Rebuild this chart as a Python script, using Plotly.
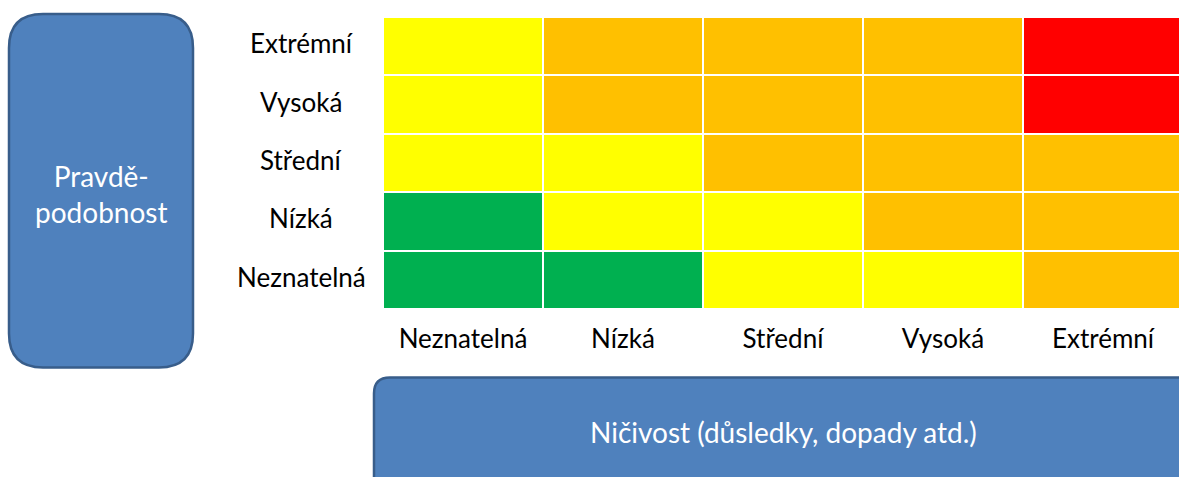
import plotly.graph_objects as go

# ---- data ----
impact = ["Neznatelná", "Nízká", "Střední", "Vysoká", "Extrémní"]          # x categories (Ničivost)
likelihood = ["Neznatelná", "Nízká", "Střední", "Vysoká", "Extrémní"]      # y categories (Pravděpodobnost), bottom -> top
# risk level per cell: 0 = green, 1 = yellow, 2 = orange, 3 = red ; rows bottom -> top
row_neznatelna = [0, 0, 1, 1, 2]
row_nizka = [0, 1, 1, 2, 2]
row_stredni = [1, 1, 2, 2, 2]
row_vysoka = [1, 2, 2, 2, 3]
row_extremni = [1, 2, 2, 2, 3]
risk = [row_neznatelna, row_nizka, row_stredni, row_vysoka, row_extremni]
level_colors = ["#00B050", "#FFFF00", "#FFC000", "#FF0000"]
y_title = "Pravdě-<br>podobnost"
x_title = "Ničivost (důsledky, dopady atd.)"

W, H = 1179, 477
L, T = 383, 17
PW = W - L           # plot width in px
PH = 292.5           # plot height in px
B = H - T - PH
CELL = 160.0

FONT = "Lato"

cs = []
n = len(level_colors)
for i, c in enumerate(level_colors):
    cs.append([i / n, c])
    cs.append([(i + 1) / n, c])

fig = go.Figure(go.Heatmap(
    z=risk, x=list(range(5)), y=list(range(5)),
    colorscale=cs, zmin=-0.5, zmax=n - 0.5, showscale=False,
    xgap=2, ygap=2, hoverinfo="skip",
))

xr_end = -0.5 + PW / CELL

def px(x, y):
    return ((x - L) / PW, (H - B - y) / PH)

def rounded_path(x0, y0, x1, y1, r):
    def P(x, y):
        a, b = px(x, y)
        return f"{a:.5f},{b:.5f}"
    d = f"M{P(x0 + r, y0)} L{P(x1 - r, y0)} Q{P(x1, y0)} {P(x1, y0 + r)} "
    d += f"L{P(x1, y1 - r)} Q{P(x1, y1)} {P(x1 - r, y1)} "
    d += f"L{P(x0 + r, y1)} Q{P(x0, y1)} {P(x0, y1 - r)} "
    d += f"L{P(x0, y0 + r)} Q{P(x0, y0)} {P(x0 + r, y0)} Z"
    return d

shapes = [
    dict(type="path", xref="paper", yref="paper", path=rounded_path(9, 14, 193, 368, 34),
         fillcolor="#4F81BD", line=dict(color="#385D8A", width=2.5), layer="above"),
    dict(type="path", xref="paper", yref="paper", path=rounded_path(374, 378, 1210, 510, 16),
         fillcolor="#4F81BD", line=dict(color="#385D8A", width=2.5), layer="above"),
]

annotations = []
for i, lab in enumerate(likelihood):
    annotations.append(dict(x=(301 - L) / PW, xref="paper", y=i, yref="y", text=lab,
                            showarrow=False, xanchor="center", yanchor="middle", yshift=3,
                            font=dict(family=FONT, size=26, color="#000000")))
bx, by = px(101, 194)
annotations.append(dict(x=bx, y=by, xref="paper", yref="paper", text=y_title, showarrow=False,
                        xanchor="center", yanchor="middle",
                        font=dict(family=FONT, size=28, color="#FFFFFF")))
tx, ty = px(783, 433)
annotations.append(dict(x=tx, y=ty, xref="paper", yref="paper", text=x_title, showarrow=False,
                        xanchor="center", yanchor="middle",
                        font=dict(family=FONT, size=28, color="#FFFFFF")))

fig.update_layout(
    width=W, height=H,
    margin=dict(l=L, r=0, t=T, b=B, pad=0),
    paper_bgcolor="white", plot_bgcolor="white",
    shapes=shapes, annotations=annotations,
    xaxis=dict(range=[-0.5, xr_end], tickmode="array", tickvals=list(range(5)), ticktext=impact,
               showgrid=False, zeroline=False, showline=False, ticks="outside", ticklen=7,
               tickcolor="rgba(0,0,0,0)",
               tickfont=dict(family=FONT, size=26, color="#000000"),
               fixedrange=True),
    yaxis=dict(range=[-0.5, 4.5], showticklabels=False, showgrid=False, zeroline=False,
               showline=False, fixedrange=True),
    showlegend=False,
)

fig.write_html("out.html", config={"displayModeBar": False},
               post_script="document.body.style.margin='0';document.body.style.overflow='hidden';")
